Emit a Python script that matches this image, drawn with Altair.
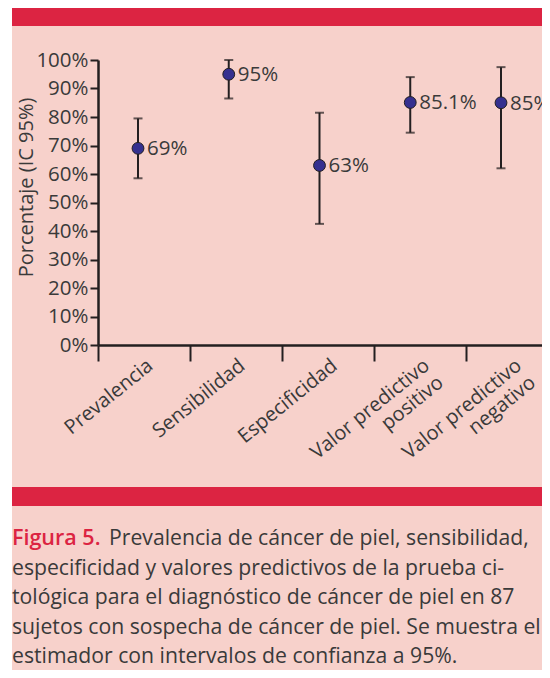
import altair as alt
import pandas as pd

categories = ["Prevalencia", "Sensibilidad", "Especificidad",
              "Valor predictivo|positivo", "Valor predictivo|negativo"]
estimates = [69, 95, 63, 85.1, 85]
lower = [58.5, 86.5, 42.5, 74.5, 62]
upper = [79.5, 100, 81.5, 94, 97.5]
value_labels = ["69%", "95%", "63%", "85.1%", "85%"]
y_ticks = [0, 10, 20, 30, 40, 50, 60, 70, 80, 90, 100]

caption_red = "Figura 5."
caption_first = "Prevalencia de cáncer de piel, sensibilidad,"
caption_rest = [
    "especificidad y valores predictivos de la prueba ci-",
    "tológica para el diagnóstico de cáncer de piel en 87",
    "sujetos con sospecha de cáncer de piel. Se muestra el",
    "estimador con intervalos de confianza a 95%.",
]

PINK = "#f7d1cb"
RED = "#dc2442"
INK = "#231f20"
TEXT = "#3a3a3a"
FONT = "Open Sans"

df = pd.DataFrame({
    "cat": categories,
    "est": estimates,
    "lo": lower,
    "hi": upper,
    "lab": value_labels,
})

xaxis = alt.Axis(
    title=None, bandPosition=0, domainColor=INK, domainWidth=2.5,
    tickColor=INK, tickWidth=2, tickSize=16, labelAngle=-39,
    labelAlign="right", labelBaseline="top", labelOffset=0,
    labelPadding=-6, labelFont=FONT, labelFontSize=20, labelColor=TEXT,
    labelExpr="split(datum.label, '|')", labelLineHeight=22,
    labelOverlap=False, labelBound=False, labelLimit=300, grid=False,
    zindex=1,
)
yaxis = alt.Axis(
    values=y_ticks, labelExpr="datum.value + '%'",
    title="Porcentaje (IC 95%)", titleFont=FONT, titleFontSize=20,
    titleFontWeight="normal", titleColor=TEXT, titleX=-72, titleY=127,
    titleBaseline="middle", titleAngle=-90,
    domainColor=INK, domainWidth=2.5, tickColor=INK, tickWidth=2,
    tickSize=8, labelFont=FONT, labelFontSize=20.5, labelColor=TEXT,
    labelPadding=2, labelOverlap=False, labelBound=False, grid=False,
    zindex=1,
)
yscale = alt.Scale(domain=[0, 100], nice=False)
band_scale = alt.Scale(type="band", paddingInner=0, paddingOuter=0,
                       range=[0, 461])
mark_scale = alt.Scale(type="point", padding=0, range=[40, 403])

one = pd.DataFrame({"k": [0]})

bg = alt.Chart(one).mark_rect(color=PINK).encode(
    x=alt.value(-86), x2=alt.value(460), y=alt.value(-53), y2=alt.value(620))
bar_top = alt.Chart(one).mark_rect(color=RED).encode(
    x=alt.value(-86), x2=alt.value(460), y=alt.value(-53), y2=alt.value(-34))
bar_mid = alt.Chart(one).mark_rect(color=RED).encode(
    x=alt.value(-86), x2=alt.value(460), y=alt.value(427), y2=alt.value(446))

base = alt.Chart(df)
axis_layer = base.mark_point(opacity=0).encode(
    x=alt.X("cat:N", sort=categories, scale=band_scale, axis=xaxis),
    y=alt.Y("est:Q", scale=yscale, axis=yaxis))

mx = alt.X("cat:N", sort=categories, scale=mark_scale, axis=None)
rules = base.mark_rule(color=INK, strokeWidth=2).encode(
    x=mx, y=alt.Y("lo:Q", scale=yscale, axis=yaxis), y2="hi:Q")
caps_lo = base.mark_tick(color=INK, thickness=2, size=9).encode(
    x=mx, y=alt.Y("lo:Q", scale=yscale, axis=yaxis))
caps_hi = base.mark_tick(color=INK, thickness=2, size=9).encode(
    x=mx, y=alt.Y("hi:Q", scale=yscale, axis=yaxis))
points = base.mark_point(filled=True, fill="#35308f", stroke=INK,
                         strokeWidth=1, size=140, opacity=1).encode(
    x=mx, y=alt.Y("est:Q", scale=yscale, axis=yaxis))
texts = base.mark_text(align="left", baseline="middle", dx=9, dy=1,
                       font=FONT, fontSize=20.5, color=TEXT).encode(
    x=mx, y=alt.Y("est:Q", scale=yscale, axis=yaxis), text="lab:N")
marks_layer = alt.layer(rules, caps_lo, caps_hi, points, texts)

cap1 = alt.Chart(one).mark_text(align="left", baseline="alphabetic",
                                font=FONT, fontSize=21.5, fontWeight=600,
                                color=RED).encode(
    x=alt.value(-86), y=alt.value(485), text=alt.value(caption_red))
cap2 = alt.Chart(one).mark_text(align="left", baseline="alphabetic",
                                font=FONT, fontSize=21.2, color=TEXT).encode(
    x=alt.value(11), y=alt.value(485), text=alt.value(caption_first))
cap3 = alt.Chart(one).mark_text(align="left", baseline="alphabetic",
                                font=FONT, fontSize=21.2, color=TEXT,
                                lineHeight=29.5).encode(
    x=alt.value(-86), y=alt.value(514.5), text=alt.value(caption_rest))

chart = alt.layer(
    bg, bar_top, bar_mid, axis_layer, marks_layer, cap1, cap2, cap3,
).resolve_scale(x="independent").properties(
    width=444, height=285,
    autosize=alt.AutoSizeParams(type="none"),
    padding={"left": 90, "top": 52, "right": 0, "bottom": 325},
    background="white",
).configure_view(stroke=None, fill=None)

chart.save("out.html", embed_options={"renderer": "svg", "actions": False})
